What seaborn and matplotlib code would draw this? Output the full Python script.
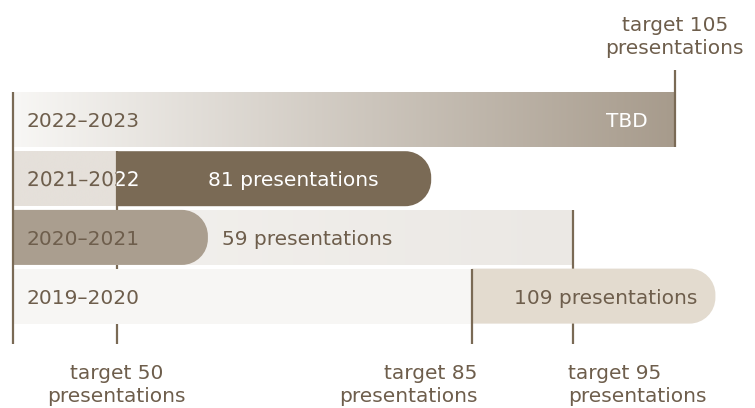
import numpy as np
import pandas as pd
import matplotlib
matplotlib.use("Agg")
import matplotlib.pyplot as plt
import seaborn as sns
from matplotlib.path import Path
from matplotlib.patches import PathPatch
from matplotlib.colors import LinearSegmentedColormap
from matplotlib.textpath import TextPath
from matplotlib.font_manager import FontProperties
from matplotlib.transforms import Affine2D

# ---------------- data ----------------
seasons = ["2022–2023", "2021–2022", "2020–2021", "2019–2020"]
targets = [105, 50, 95, 85]
actuals = [np.nan, 81, 59, 109]
value_labels = ["TBD", "81 presentations", "59 presentations", "109 presentations"]
target_labels = ["target 105\npresentations", "target 50\npresentations",
                 "target 95\npresentations", "target 85\npresentations"]

# ---------------- style ----------------
bg_start = ["#f8f7f5", "#e5e0da", "#f4f2ef", "#f8f7f5"]
bg_end = ["#a79b8c", "#e5e0da", "#ebe8e4", "#f7f6f4"]
bar_colors = [None, "#7a6a55", "#aa9e8f", "#e3dbcf"]
label_colors = ["white", "white", "#6e5e4c", "#6e5e4c"]
label_anchor = ["end", "start", "end", "end"]
label_ha = ["right", "left", "left", "right"]
label_dx = [-27, 91, 14, -18]
tlabel_ha = ["center", "center", "left", "right"]
tlabel_dx = [0, 0, -5, 6]
BROWN = "#6e5e4c"
LINE = "#7a6a55"
FS = 14.5
FAMILY = "DejaVu Sans"

sns.set_theme(style="white")
plt.rcParams['font.family'] = [FAMILY]

fig = plt.figure(figsize=(7.55, 4.08), dpi=100)
ax = fig.add_axes([13 / 755, 0, 742 / 755, 1])

XMIN, XMAX = 39.8, 112.9
YLIM = (4.906, -2.044)
H = 0.937
LINE_BOTTOM = 3.816
LINE_TOP0 = -0.85

df = pd.DataFrame({"season": seasons, "target": targets})
sns.barplot(data=df, x="target", y="season", order=seasons, orient="h",
            width=H, color="#e5e0da", saturation=1, linewidth=0, ax=ax)
bg_patches = list(ax.patches)

grad = np.linspace(0, 1, 256).reshape(1, -1)
K = 0.5523


def rounded_right(x0, x1, yc, h, rx, ry):
    y0, y1 = yc - h / 2, yc + h / 2
    verts = [(x0, y0), (x1 - rx, y0),
             (x1 - rx + K * rx, y0), (x1, y0 + ry - K * ry), (x1, y0 + ry),
             (x1, y1 - ry),
             (x1, y1 - ry + K * ry), (x1 - rx + K * rx, y1), (x1 - rx, y1),
             (x0, y1), (x0, y0)]
    codes = [Path.MOVETO, Path.LINETO,
             Path.CURVE4, Path.CURVE4, Path.CURVE4,
             Path.LINETO,
             Path.CURVE4, Path.CURVE4, Path.CURVE4,
             Path.LINETO, Path.CLOSEPOLY]
    return Path(verts, codes)


px_x = 742 / (XMAX - XMIN)
px_y = 408 / (YLIM[0] - YLIM[1])
RX = 26 / px_x
RY = 26 / px_y

ax.set_xlim(XMIN, XMAX)
ax.set_ylim(*YLIM)
size_px = FS * fig.dpi / 72

for i, (season, t, a) in enumerate(zip(seasons, targets, actuals)):
    base = 10 * (i + 1)
    yc = i
    p = bg_patches[i]
    p.set_zorder(base)
    p.set_facecolor(bg_start[i])
    cmap = LinearSegmentedColormap.from_list(f"g{i}", [bg_start[i], bg_end[i]])
    im = ax.imshow(grad, cmap=cmap, extent=(XMIN, t, yc + H / 2, yc - H / 2),
                   aspect="auto", zorder=base + 0.5, interpolation="bilinear")
    im.set_clip_path(p)

    bar = None
    if not np.isnan(a):
        start = t if a > t else 0
        bar = PathPatch(rounded_right(start, a, yc, H, RX, RY),
                        facecolor=bar_colors[i], edgecolor="none", zorder=base + 1)
        ax.add_patch(bar)
        anchor_x = a if label_anchor[i] == "end" else start
    else:
        start = None
        anchor_x = t

    # year label: brown, with a white part where it crosses a dark bar
    if start is not None and start > XMIN and label_colors[i] == "white":
        tp = TextPath((0, 0), season, size=size_px, prop=FontProperties(family=FAMILY))
        xd, yd = ax.transData.transform((XMIN, yc))
        tr = Affine2D().translate(xd + 14, yd - 0.729 * size_px / 2)
        for col, clip in ((BROWN, p), ("white", bar)):
            pp = PathPatch(tp, facecolor=col, edgecolor="none", transform=tr,
                           zorder=base + 2.5)
            ax.add_artist(pp)
            pp.set_clip_path(clip)
    else:
        ax.annotate(season, xy=(XMIN, yc), xytext=(14, 0), textcoords="offset pixels",
                    ha="left", va="center_baseline", color=BROWN, fontsize=FS,
                    zorder=base + 2.5)

    ax.annotate(value_labels[i], xy=(anchor_x, yc), xytext=(label_dx[i], 0),
                textcoords="offset pixels", ha=label_ha[i], va="center_baseline",
                color=label_colors[i], fontsize=FS, zorder=base + 2.5)

    # target line and label
    if i == 0:
        ax.plot([t, t], [LINE_TOP0, yc + H / 2], color=LINE, lw=1.6,
                zorder=base + 2, solid_capstyle="butt", clip_on=False)
        ax.annotate(target_labels[i], xy=(t, LINE_TOP0), xytext=(tlabel_dx[i], 12),
                    textcoords="offset pixels", ha=tlabel_ha[i], va="bottom",
                    color=BROWN, fontsize=FS, linespacing=1.25,
                    multialignment="center")
    else:
        ax.plot([t, t], [yc - H / 2, LINE_BOTTOM], color=LINE, lw=1.6,
                zorder=base + 2, solid_capstyle="butt")
        ax.annotate(target_labels[i], xy=(t, LINE_BOTTOM), xytext=(tlabel_dx[i], -20),
                    textcoords="offset pixels", ha=tlabel_ha[i], va="top",
                    color=BROWN, fontsize=FS, linespacing=1.25,
                    multialignment=tlabel_ha[i], annotation_clip=False)

# left axis line
ax.plot([XMIN, XMIN], [0 - H / 2, LINE_BOTTOM], color=LINE, lw=1.6,
        zorder=100, clip_on=False, solid_capstyle="butt")

ax.set_xlim(XMIN, XMAX)
ax.set_ylim(*YLIM)
ax.axis("off")

fig.savefig("out.png", dpi=100)
